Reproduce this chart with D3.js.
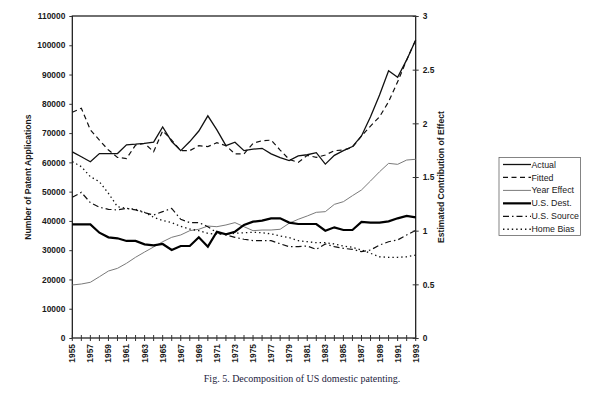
<!DOCTYPE html>
<html>
<head>
<meta charset="utf-8">
<script src="https://cdn.jsdelivr.net/npm/d3@7"></script>
<style>
  html, body { margin: 0; padding: 0; background: #fff; }
  svg { display: block; }
  text { font-family: "Liberation Sans", Arial, sans-serif; fill: #1a1a1a; }
</style>
</head>
<body>
<svg id="chart" width="600" height="393"></svg>
<script>
// ---- data ----
const years = [1955,1956,1957,1958,1959,1960,1961,1962,1963,1964,1965,1966,1967,1968,1969,1970,1971,1972,1973,1974,1975,1976,1977,1978,1979,1980,1981,1982,1983,1984,1985,1986,1987,1988,1989,1990,1991,1992,1993];
const actual = [63600,61900,60200,63000,63000,63000,66000,66200,66500,66900,72100,67100,64000,67100,70700,75900,71100,65700,66900,64000,64500,64800,62900,61600,60600,62200,62600,63300,59400,62400,64000,65400,69000,75600,83000,91300,89100,95000,101800];
const fitted = [77100,78500,71100,67600,64200,61700,61300,65900,66500,63600,70800,67600,64000,64000,65700,65400,66700,65700,62900,62900,66500,67400,67600,64200,61000,60000,62400,61700,62500,64000,64200,65150,69000,72400,75600,80700,87500,95000,101800];
const yearEffect = [0.494,0.503,0.519,0.571,0.624,0.649,0.696,0.752,0.801,0.848,0.897,0.938,0.960,1.0,1.013,1.043,1.037,1.053,1.075,1.037,1.0,1.006,1.006,1.013,1.069,1.106,1.137,1.171,1.177,1.245,1.270,1.326,1.379,1.463,1.549,1.627,1.618,1.658,1.665];
const usDest = [1.059,1.059,1.059,0.981,0.938,0.929,0.904,0.904,0.873,0.863,0.876,0.820,0.857,0.857,0.938,0.851,0.990,0.966,0.990,1.053,1.084,1.093,1.115,1.115,1.075,1.062,1.062,1.062,1.0,1.031,1.006,1.006,1.081,1.075,1.075,1.087,1.115,1.137,1.124];
const usSource = [1.311,1.357,1.261,1.218,1.199,1.193,1.208,1.193,1.168,1.146,1.177,1.208,1.106,1.075,1.075,1.037,0.981,0.960,0.938,0.920,0.907,0.907,0.907,0.878,0.851,0.851,0.857,0.826,0.876,0.851,0.835,0.826,0.804,0.820,0.866,0.897,0.913,0.960,1.002];
const homeBias = [1.643,1.596,1.503,1.456,1.348,1.223,1.208,1.199,1.171,1.125,1.095,1.075,1.040,1.015,1.0,0.975,0.965,0.970,0.975,0.980,0.985,0.980,0.970,0.950,0.935,0.907,0.897,0.888,0.888,0.876,0.857,0.845,0.820,0.789,0.757,0.752,0.752,0.757,0.773];
const leftTicks = [0,10000,20000,30000,40000,50000,60000,70000,80000,90000,100000,110000];
const rightTicks = [0,0.5,1,1.5,2,2.5,3];
const yearLabels = [1955,1957,1959,1961,1963,1965,1967,1969,1971,1973,1975,1977,1979,1981,1983,1985,1987,1989,1991,1993];
const legendNames = ["Actual","Fitted","Year Effect","U.S. Dest.","U.S. Source","Home Bias"];

// ---- layout ----
const L = 72.3, R = 415.7, T = 16, B = 338;
const svg = d3.select("#chart");
const x = d3.scaleLinear().domain([1955,1993]).range([L,R]);
const yL = d3.scaleLinear().domain([0,110000]).range([B,T]);
const yR = d3.scaleLinear().domain([0,3]).range([B,T]);

const styles = {
  "Actual":      {stroke:"#111", width:1.3, dash:null},
  "Fitted":      {stroke:"#111", width:1.2, dash:"5,3.5"},
  "Year Effect": {stroke:"#7a7a7a", width:1.0, dash:null},
  "U.S. Dest.":  {stroke:"#000", width:2.2, dash:null},
  "U.S. Source": {stroke:"#111", width:1.2, dash:"6,3,1.5,3"},
  "Home Bias":   {stroke:"#111", width:1.3, dash:"1.4,3"}
};

const series = [
  {name:"Actual", vals:actual, y:yL},
  {name:"Fitted", vals:fitted, y:yL},
  {name:"Year Effect", vals:yearEffect, y:yR},
  {name:"U.S. Dest.", vals:usDest, y:yR},
  {name:"U.S. Source", vals:usSource, y:yR},
  {name:"Home Bias", vals:homeBias, y:yR}
];

// frame
svg.append("rect").attr("x",L).attr("y",T).attr("width",R-L).attr("height",B-T)
  .attr("fill","none").attr("stroke","#111").attr("stroke-width",1.2);

// lines
const drawOrder = ["Year Effect","Home Bias","U.S. Source","U.S. Dest.","Fitted","Actual"];
drawOrder.forEach(nm => {
  const s = series.find(d => d.name === nm);
  const st = styles[nm];
  const line = d3.line().x((d,i) => x(years[i])).y(d => s.y(d));
  svg.append("path").datum(s.vals).attr("d", line)
    .attr("fill","none").attr("stroke",st.stroke).attr("stroke-width",st.width)
    .attr("stroke-dasharray",st.dash).attr("stroke-linejoin","miter");
});

// left axis
const gL = svg.append("g").attr("transform",`translate(${L},0)`)
  .call(d3.axisLeft(yL).tickValues(leftTicks).tickSize(3).tickPadding(4).tickFormat(d3.format("d")));
gL.select(".domain").remove();
gL.selectAll("text").style("font-size","8.4px").style("font-weight","bold").attr("fill","#222")
  .style("font-family","'Liberation Sans', Arial, sans-serif");
gL.selectAll("line").attr("stroke","#333");

// right axis
const gR = svg.append("g").attr("transform",`translate(${R},0)`)
  .call(d3.axisRight(yR).tickValues(rightTicks).tickSize(3).tickPadding(4).tickFormat(d => String(d)));
gR.select(".domain").remove();
gR.selectAll("text").style("font-size","8.4px").style("font-weight","bold").attr("fill","#222")
  .style("font-family","'Liberation Sans', Arial, sans-serif");
gR.selectAll("line").attr("stroke","#333").attr("x1",-3).attr("x2",3);

// x axis: ticks every year crossing the axis, labels every other year
const gX = svg.append("g").attr("transform",`translate(0,${B})`);
gX.selectAll("line.t").data(years).join("line").attr("class","t")
  .attr("x1",d=>x(d)).attr("x2",d=>x(d)).attr("y1",-3).attr("y2",3)
  .attr("stroke","#333").attr("stroke-width",1);
gX.selectAll("text").data(yearLabels).join("text")
  .attr("transform",d=>`translate(${x(d)},6) rotate(-90)`)
  .attr("text-anchor","end").attr("dy","0.35em")
  .style("font-size","8.4px").style("font-weight","bold").attr("fill","#222")
  .text(d=>d);

// axis titles
svg.append("text").attr("transform",`translate(31,${(T+B)/2}) rotate(-90)`)
  .attr("text-anchor","middle").style("font-size","8.6px").style("font-weight","bold")
  .text("Number of Patent Applications");
svg.append("text").attr("transform",`translate(444,${(T+B)/2}) rotate(-90)`)
  .attr("text-anchor","middle").style("font-size","8.6px").style("font-weight","bold")
  .text("Estimated Contribution of Effect");

// legend
const lg = svg.append("g");
lg.append("rect").attr("x",499).attr("y",157.5).attr("width",81.5).attr("height",78)
  .attr("fill","#fff").attr("stroke","#666").attr("stroke-width",0.8);
legendNames.forEach((nm,i) => {
  const yy = 164.5 + i*12.95;
  const st = styles[nm];
  lg.append("line").attr("x1",503).attr("x2",531).attr("y1",yy).attr("y2",yy)
    .attr("stroke",st.stroke).attr("stroke-width",st.width).attr("stroke-dasharray",st.dash);
  lg.append("text").attr("x",531.5).attr("y",yy).attr("dy","0.35em")
    .style("font-size","8.8px").text(nm);
});

// caption
svg.append("text").attr("x",302).attr("y",382).attr("text-anchor","middle")
  .style("font-family","'Liberation Serif', 'Times New Roman', serif").style("font-size","10px")
  .style("fill","#1c1c40")
  .text("Fig. 5. Decomposition of US domestic patenting.");
</script>
</body>
</html>
